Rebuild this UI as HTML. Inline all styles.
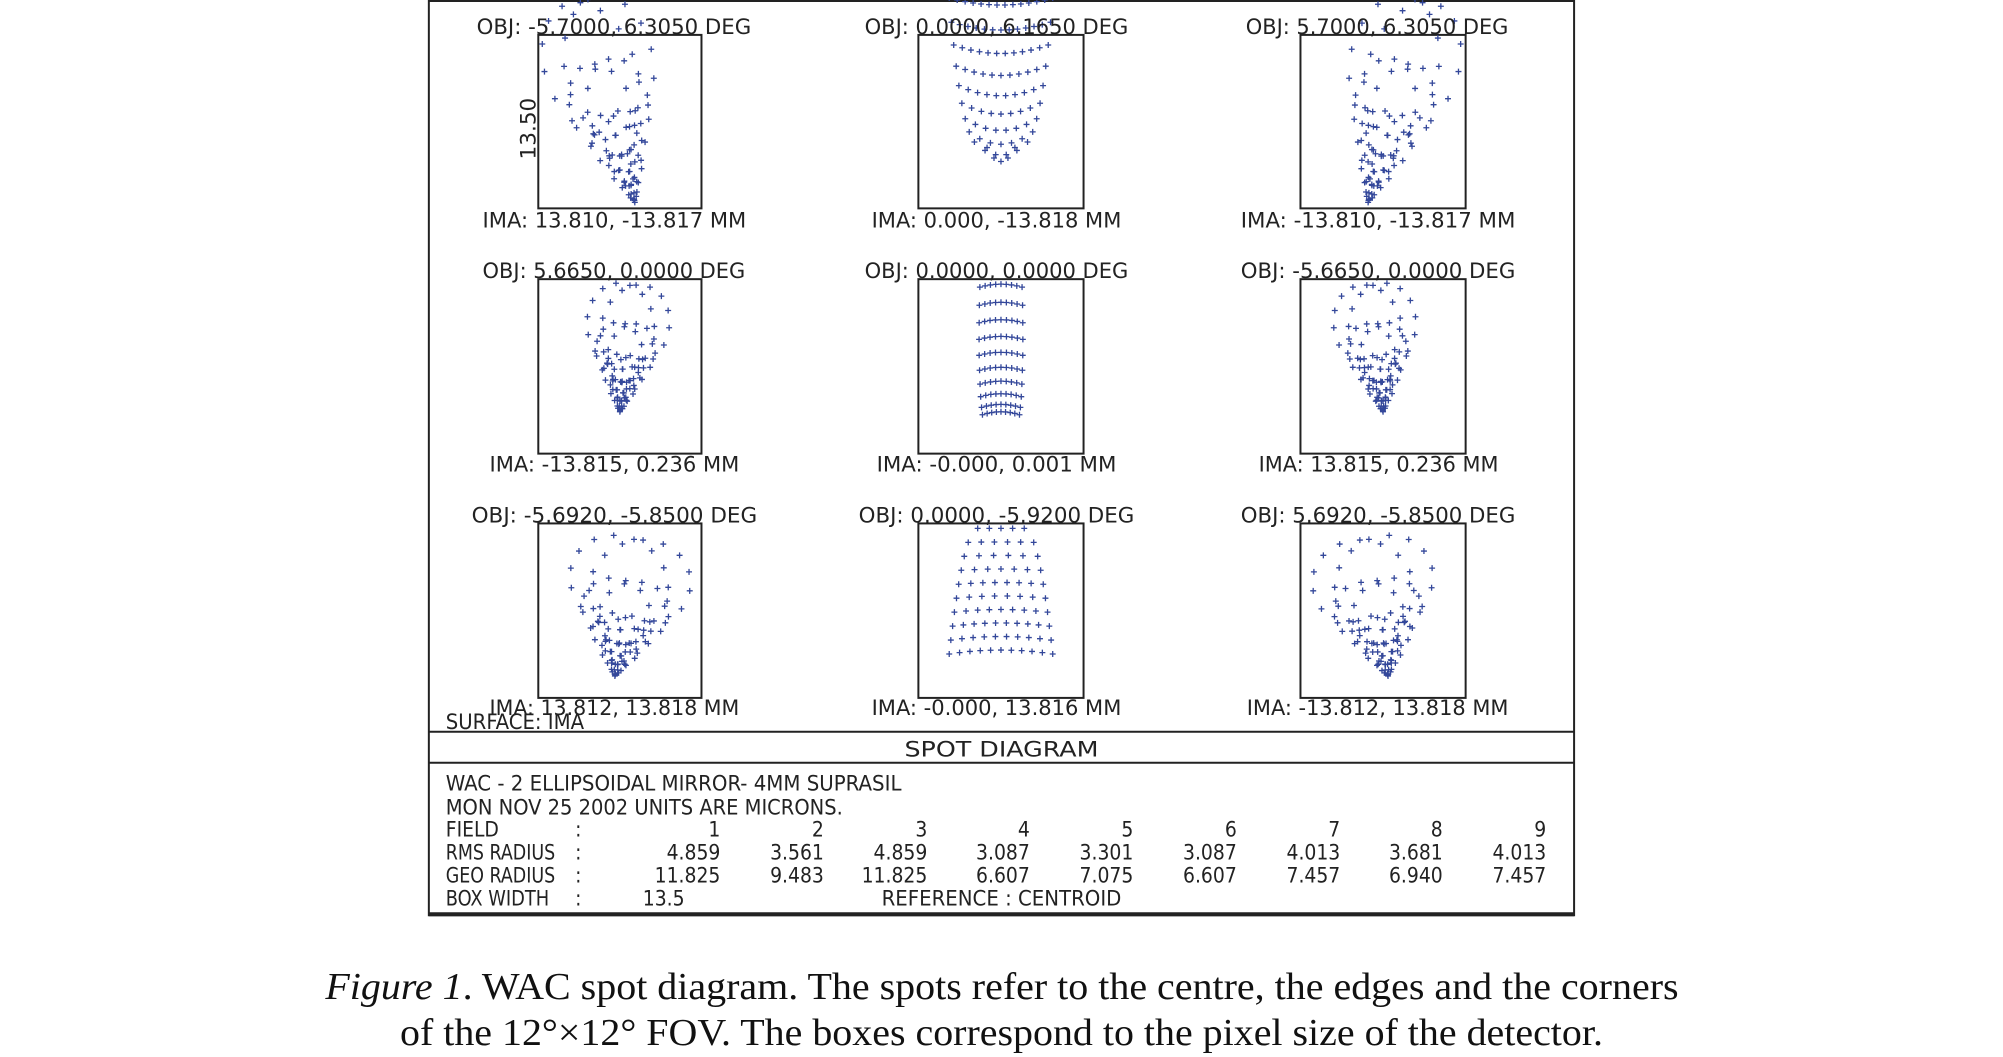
<!DOCTYPE html>
<html><head><meta charset="utf-8"><style>
html,body{margin:0;padding:0;background:#fff;}
svg{display:block;}
.p{font-family:"DejaVu Sans Condensed","Liberation Sans Narrow","Liberation Sans",sans-serif;font-size:21px;fill:#222;}
.c{font-family:"Liberation Serif",serif;font-size:38px;fill:#111;}
</style></head><body>
<svg id="s" width="2003" height="1057" viewBox="0 0 2003 1057" xmlns="http://www.w3.org/2000/svg">
<rect x="0" y="0" width="2003" height="1057" fill="#fff"/>
<g transform="scale(0.995,0.997)">
<g fill="none" stroke="#222" stroke-width="2">
<path d="M431,0 V918 H1582 V0"/>
<line x1="431" y1="1" x2="1582" y2="1"/>
<rect x="541" y="35" width="164" height="174"/>
<rect x="923" y="35" width="166" height="174"/>
<rect x="1307" y="35" width="166" height="174"/>
<rect x="541" y="280" width="164" height="175"/>
<rect x="923" y="280" width="166" height="175"/>
<rect x="1307" y="280" width="166" height="175"/>
<rect x="541" y="525" width="164" height="175"/>
<rect x="923" y="525" width="166" height="175"/>
<rect x="1307" y="525" width="166" height="175"/>
<line x1="431" y1="734" x2="1582" y2="734"/>
<line x1="431" y1="765" x2="1582" y2="765"/>
</g>
<line x1="431" y1="917" x2="1582" y2="917" stroke="#222" stroke-width="4"/>
<g id="spots" stroke="#33479a" stroke-width="1.3"></g>
<g class="p">
<text x="479" y="34" textLength="276" lengthAdjust="spacingAndGlyphs">OBJ: -5.7000, 6.3050 DEG</text>
<text x="869" y="34" textLength="265" lengthAdjust="spacingAndGlyphs">OBJ: 0.0000, 6.1650 DEG</text>
<text x="1252" y="34" textLength="264" lengthAdjust="spacingAndGlyphs">OBJ: 5.7000, 6.3050 DEG</text>
<text x="485" y="228" textLength="265" lengthAdjust="spacingAndGlyphs">IMA: 13.810, -13.817 MM</text>
<text x="876" y="228" textLength="251" lengthAdjust="spacingAndGlyphs">IMA: 0.000, -13.818 MM</text>
<text x="1247" y="228" textLength="276" lengthAdjust="spacingAndGlyphs">IMA: -13.810, -13.817 MM</text>
<text x="485" y="279" textLength="264" lengthAdjust="spacingAndGlyphs">OBJ: 5.6650, 0.0000 DEG</text>
<text x="869" y="279" textLength="265" lengthAdjust="spacingAndGlyphs">OBJ: 0.0000, 0.0000 DEG</text>
<text x="1247" y="279" textLength="276" lengthAdjust="spacingAndGlyphs">OBJ: -5.6650, 0.0000 DEG</text>
<text x="492" y="473" textLength="251" lengthAdjust="spacingAndGlyphs">IMA: -13.815, 0.236 MM</text>
<text x="881" y="473" textLength="241" lengthAdjust="spacingAndGlyphs">IMA: -0.000, 0.001 MM</text>
<text x="1265" y="473" textLength="241" lengthAdjust="spacingAndGlyphs">IMA: 13.815, 0.236 MM</text>
<text x="474" y="524" textLength="287" lengthAdjust="spacingAndGlyphs">OBJ: -5.6920, -5.8500 DEG</text>
<text x="863" y="524" textLength="277" lengthAdjust="spacingAndGlyphs">OBJ: 0.0000, -5.9200 DEG</text>
<text x="1247" y="524" textLength="276" lengthAdjust="spacingAndGlyphs">OBJ: 5.6920, -5.8500 DEG</text>
<text x="492" y="717" textLength="251" lengthAdjust="spacingAndGlyphs">IMA: 13.812, 13.818 MM</text>
<text x="876" y="717" textLength="251" lengthAdjust="spacingAndGlyphs">IMA: -0.000, 13.816 MM</text>
<text x="1253" y="717" textLength="263" lengthAdjust="spacingAndGlyphs">IMA: -13.812, 13.818 MM</text>
<text x="448" y="731" textLength="139" lengthAdjust="spacingAndGlyphs">SURFACE: IMA</text>
<text transform="translate(538,160) rotate(-90)" textLength="62" lengthAdjust="spacingAndGlyphs">13.50</text>
<text x="909" y="759" textLength="195" lengthAdjust="spacingAndGlyphs">SPOT DIAGRAM</text>
<text x="448" y="793" textLength="458" lengthAdjust="spacingAndGlyphs">WAC - 2 ELLIPSOIDAL MIRROR- 4MM SUPRASIL</text>
<text x="448" y="817" textLength="399" lengthAdjust="spacingAndGlyphs">MON NOV 25 2002  UNITS ARE MICRONS.</text>
<text x="448" y="839">FIELD</text>
<text x="448" y="862" textLength="110" lengthAdjust="spacingAndGlyphs">RMS RADIUS</text>
<text x="448" y="885" textLength="110" lengthAdjust="spacingAndGlyphs">GEO RADIUS</text>
<text x="448" y="908" textLength="104" lengthAdjust="spacingAndGlyphs">BOX WIDTH</text>
<text x="578" y="839">:</text><text x="578" y="862">:</text><text x="578" y="885">:</text><text x="578" y="908">:</text>
<text x="646" y="908">13.5</text>
<text x="886" y="908" textLength="241" lengthAdjust="spacingAndGlyphs">REFERENCE  : CENTROID</text>
</g>
<g id="tbl" class="p" text-anchor="end"></g>
<text class="c" x="327" y="1002" textLength="1360" lengthAdjust="spacingAndGlyphs"><tspan font-style="italic">Figure 1</tspan>. WAC spot diagram. The spots refer to the centre, the edges and the corners</text>
<text class="c" x="402" y="1048" textLength="1209" lengthAdjust="spacingAndGlyphs">of the 12°×12° FOV. The boxes correspond to the pixel size of the detector.</text>
</g>
</svg>
<script>
(function(){
var NS="http://www.w3.org/2000/svg";
var tb=document.getElementById("tbl");
var cols=[724,828,932,1035,1139,1243,1347,1450,1554];
var rows=[[839,["1","2","3","4","5","6","7","8","9"]],
[862,["4.859","3.561","4.859","3.087","3.301","3.087","4.013","3.681","4.013"]],
[885,["11.825","9.483","11.825","6.607","7.075","6.607","7.457","6.940","7.457"]]];
rows.forEach(function(r){r[1].forEach(function(t,i){var e=document.createElementNS(NS,"text");e.setAttribute("x",cols[i]);e.setAttribute("y",r[0]);e.textContent=t;tb.appendChild(e);});});
var g=document.getElementById("spots");
var d="";
function plus(x,y){d+="M"+(x-3).toFixed(1)+","+y.toFixed(1)+"h6M"+x.toFixed(1)+","+(y-3).toFixed(1)+"v6";}
function pupil(cb){for(var i=1;i<=6;i++){var rho=i/6,n=5*i;for(var j=0;j<n;j++){cb(rho,2*Math.PI*j/n+i*0.3);}}cb(0,0);}
function coma(ax,ay,tx,ty,K,Kx,mir,cx){
 var dx=tx-ax,dy=ty-ay,L=Math.hypot(dx,dy);dx/=L;dy/=L;
 pupil(function(r,t){var a=r*r*(2+Math.cos(2*t))*L/3;var b=Kx*r*r*Math.sin(2*t)+Kx*0.3*r*Math.cos(t);
  var x=ax+dx*a-dy*b,y=ay+dy*a+dx*b;
  if(mir)x=cx-(x-623);
  plus(x,y);});
}
coma(638,203,585,0,70,45,false);coma(638,203,585,0,70,45,true,1390);
coma(623,413,635,285,44,34,false);coma(623,413,635,285,44,34,true,1390);
coma(618,678,640,540,50,50,false);coma(618,678,640,540,50,50,true,1390);
// center top: cup-shaped arcs (smile)
for(var i=0;i<10;i++){var s=i/9;var yb=148-150*Math.pow(s,1.5);var w=14+38*Math.sqrt(s);var n=4+i;for(var j=0;j<=n;j++){var u=-1+2*j/n;plus(1006+w*u,yb+14*(1-u*u)*(1-0.5*s));}}
// center: grid rows
for(var i=0;i<10;i++){var s=i/9;var y=413-128*Math.pow(1-s,1.3);var n=9;var w=22*(0.7+0.3*Math.sin(Math.PI*(1-s)*0.5+0.5));for(var j=0;j<n;j++){var u=-1+2*j/(n-1);plus(1006+w*u,y+3*u*u);}}
// bottom center: trapezoid
for(var i=0;i<10;i++){var s=i/9;var y=530+122*s;var w=52*(0.45+0.55*Math.sqrt(s));var n=4+Math.round(6*s);for(var j=0;j<=n;j++){var u=-1+2*j/n;plus(1006+w*u,y+4*u*u*s);}}
var p=document.createElementNS(NS,"path");p.setAttribute("d",d);p.setAttribute("fill","none");g.appendChild(p);
})();
</script>
</body></html>
